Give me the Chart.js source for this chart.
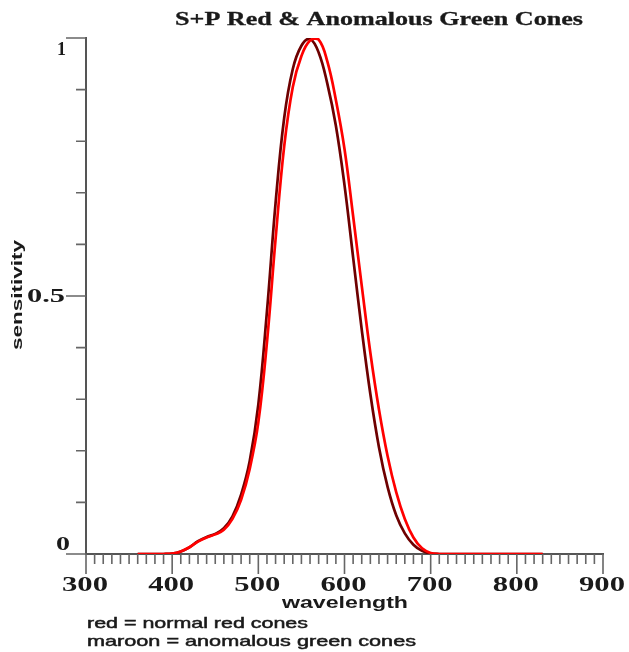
<!DOCTYPE html>
<html>
<head>
<meta charset="utf-8">
<title>S+P Red &amp; Anomalous Green Cones</title>
<script src="https://cdn.jsdelivr.net/npm/chart.js@4.4.1/dist/chart.umd.min.js"></script>
<style>
  html, body { margin: 0; padding: 0; background: #fff; }
  #wrap { position: relative; width: 629px; height: 652px; }
</style>
</head>
<body>
<div id="wrap"><canvas id="cones"></canvas></div>
<script>
// Wavelengths (nm) at which the cone sensitivities are sampled
const wavelengths = [360, 370, 380, 390, 400, 410, 420, 430, 440, 450,
                     460, 470, 480, 490, 500, 510, 520, 530, 540, 550,
                     560, 570, 580, 590, 600, 610, 620, 630, 640, 650,
                     660, 670, 680, 690, 700, 710, 720, 730, 740, 750,
                     760, 770, 780, 790, 800, 810, 820, 830];

// Smith-Pokorny normal L (red) cone sensitivity, normalised to 1
const normalRed = [0, 0, 0, 0, 0.001, 0.005, 0.013, 0.024, 0.032, 0.038,
                   0.047, 0.068, 0.105, 0.165, 0.255, 0.41, 0.61, 0.79, 0.905, 0.965,
                   0.995, 0.997, 0.955, 0.88, 0.785, 0.655, 0.52, 0.39, 0.28, 0.19,
                   0.12, 0.068, 0.032, 0.011, 0.002, 0, 0, 0, 0, 0,
                   0, 0, 0, 0, 0, 0, 0, 0];

// Anomalous green (shifted L-like) cone sensitivity, normalised to 1
const anomalousGreen = [0, 0, 0, 0, 0.001, 0.005, 0.013, 0.025, 0.033, 0.039,
                        0.05, 0.073, 0.115, 0.18, 0.29, 0.47, 0.68, 0.845, 0.94, 0.985,
                        0.998, 0.972, 0.912, 0.83, 0.715, 0.575, 0.435, 0.31, 0.207, 0.13,
                        0.075, 0.04, 0.018, 0.006, 0.001, 0, 0, 0, 0, 0,
                        0, 0, 0, 0, 0, 0, 0, 0];

const xTickLabels = [300, 400, 500, 600, 700, 800, 900];
const yTickLabels = [0, 0.5, 1];

const chartTitle = 'S+P Red & Anomalous Green Cones';
const xAxisTitle = 'wavelength';
const yAxisTitle = 'sensitivity';
const noteLines = ['red = normal red cones', 'maroon = anomalous green cones'];

const SERIF = '"Liberation Serif", "Times New Roman", serif';
const SANS = '"Liberation Sans", Arial, sans-serif';

// Draw a string squeezed/stretched to a given width
function wideText(ctx, str, x, y, font, width, align, angle, heavy) {
  ctx.save();
  ctx.font = font;
  const w = ctx.measureText(str).width;
  ctx.translate(x, y);
  if (angle) ctx.rotate(angle);
  ctx.scale(width / w, 1);
  ctx.textAlign = align || 'center';
  ctx.textBaseline = 'alphabetic';
  ctx.fillText(str, 0, 0);
  if (heavy) {
    ctx.lineWidth = heavy;
    ctx.strokeStyle = ctx.fillStyle;
    ctx.strokeText(str, 0, 0);
  }
  ctx.restore();
}

// Outward tick marks: long at labelled values, short in between
const axisTicks = {
  id: 'axisTicks',
  beforeDatasetsDraw(chart) {
    const { ctx, chartArea, scales: { x, y } } = chart;
    ctx.save();
    ctx.strokeStyle = '#666';
    ctx.lineWidth = 1.6;
    ctx.beginPath();
    x.ticks.forEach(t => {
      const px = x.getPixelForValue(t.value);
      const major = Math.round(t.value) % 100 === 0;
      ctx.moveTo(px, chartArea.bottom);
      ctx.lineTo(px, chartArea.bottom + (major ? 20 : 10));
    });
    y.ticks.forEach(t => {
      const py = y.getPixelForValue(t.value);
      const major = Math.abs(t.value * 2 - Math.round(t.value * 2)) < 1e-6;
      ctx.moveTo(chartArea.left, py);
      ctx.lineTo(chartArea.left - (major ? 20 : 10), py);
    });
    ctx.stroke();
    ctx.restore();
  },
  afterDraw(chart) {
    const { ctx, scales: { x, y } } = chart;
    ctx.save();
    ctx.fillStyle = '#1a1a1a';

    wideText(ctx, chartTitle, 379, 25, 'bold 19px ' + SERIF, 408, 'center', 0, 0.3);

    xTickLabels.forEach(v => {
      wideText(ctx, String(v), x.getPixelForValue(v) - 1, 591, 'bold 20px ' + SERIF, 46, 'center');
    });

    const yLab = { 0: [70, -4, 14], 0.5: [65, 6, 38], 1: [66, 17, 9] };
    yTickLabels.forEach(v => {
      const [right, dy, w] = yLab[v];
      wideText(ctx, String(v), right, y.getPixelForValue(v) + dy, 'bold 18px ' + SERIF, w, 'right');
    });

    wideText(ctx, xAxisTitle, 345, 608, 'bold 16px ' + SANS, 126, 'center');
    wideText(ctx, yAxisTitle, 22, 295, 'bold 15px ' + SANS, 110, 'center', -Math.PI / 2);

    wideText(ctx, noteLines[0], 87, 628, '15px ' + SANS, 221, 'left', 0, 0.5);
    wideText(ctx, noteLines[1], 87, 646, '15px ' + SANS, 329, 'left', 0, 0.5);
    ctx.restore();
  }
};

const toPoints = vals => wavelengths.map((w, i) => ({ x: w, y: vals[i] }));

new Chart(document.getElementById('cones'), {
  type: 'line',
  data: {
    datasets: [
      {
        label: 'normal red cones',
        data: toPoints(normalRed),
        borderColor: '#ff0000',
        borderWidth: 2.7,
        pointRadius: 0,
        tension: 0.4,
        fill: false
      },
      {
        label: 'anomalous green cones',
        data: toPoints(anomalousGreen),
        borderColor: '#6e0000',
        borderWidth: 2.7,
        pointRadius: 0,
        tension: 0.4,
        fill: false
      }
    ]
  },
  options: {
    responsive: true,
    maintainAspectRatio: false,
    animation: false,
    devicePixelRatio: 1,
    events: [],
    layout: { padding: { left: 86, top: 38, right: 26, bottom: 98 } },
    plugins: {
      legend: { display: false },
      title: { display: false },
      tooltip: { enabled: false }
    },
    scales: {
      x: {
        type: 'linear',
        min: 300,
        max: 900,
        ticks: { display: false, stepSize: 10 },
        grid: { display: false, drawTicks: false },
        border: { display: true, color: '#555', width: 2 },
        afterFit(scale) { scale.height = 0; }
      },
      y: {
        type: 'linear',
        min: 0,
        max: 1,
        ticks: { display: false, stepSize: 0.1 },
        grid: { display: false, drawTicks: false },
        border: { display: true, color: '#555', width: 2 },
        afterFit(scale) { scale.width = 0; }
      }
    }
  },
  plugins: [axisTicks]
});
</script>
</body>
</html>
